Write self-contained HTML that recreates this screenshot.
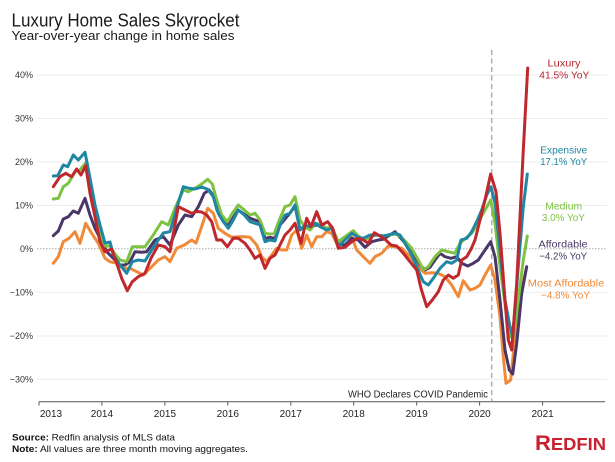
<!DOCTYPE html>
<html><head><meta charset="utf-8"><style>
html,body{margin:0;padding:0;background:#fff;}
svg{display:block;font-family:"Liberation Sans",Arial,sans-serif;}
</style></head><body>
<svg width="615" height="462" viewBox="0 0 615 462" xmlns="http://www.w3.org/2000/svg">
<rect width="615" height="462" fill="#fff"/>
<text x="11.5" y="26.5" font-size="18.5" fill="#1a1a1a" textLength="228" lengthAdjust="spacingAndGlyphs">Luxury Home Sales Skyrocket</text>
<text x="11.5" y="40" font-size="13" fill="#1a1a1a" textLength="223" lengthAdjust="spacingAndGlyphs">Year-over-year change in home sales</text>

<g stroke="#ebebeb" stroke-width="1">
<line x1="37" y1="75" x2="607" y2="75"/>
<line x1="37" y1="118.5" x2="607" y2="118.5"/>
<line x1="37" y1="162" x2="607" y2="162"/>
<line x1="37" y1="205.5" x2="607" y2="205.5"/>
<line x1="37" y1="292.3" x2="607" y2="292.3"/>
<line x1="37" y1="336" x2="607" y2="336"/>
<line x1="37" y1="379.3" x2="607" y2="379.3"/>
</g>
<line x1="37" y1="248.7" x2="607" y2="248.7" stroke="#aaa" stroke-width="1" stroke-dasharray="1.5 1.5"/>

<g font-size="9" fill="#333" text-anchor="end">
<text x="33" y="78.2">40%</text>
<text x="33" y="121.7">30%</text>
<text x="33" y="165.2">20%</text>
<text x="33" y="208.7">10%</text>
<text x="33" y="251.9">0%</text>
<text x="33" y="295.5">−10%</text>
<text x="33" y="339.2">−20%</text>
<text x="33" y="382.5">−30%</text>
</g>

<line x1="491.7" y1="50" x2="491.7" y2="401" stroke="#b0b0b0" stroke-width="1.5" stroke-dasharray="5 3.5"/>

<g fill="none" stroke-width="3" stroke-linejoin="round" stroke-linecap="round">
<polyline stroke="#f08a38" points="53.3,263.3 58.3,256.7 63.3,241.7 69,238.3 75,231.7 80,243.3 85.7,223.3 91.7,233.3 98.3,243.3 105,258.3 110,261.7 116.7,263.3 123.3,268.3 130,268.3 136.7,271.7 143.3,275 151.7,266.7 158.3,260 165,256.7 170,261.7 176.7,248.3 184.3,245 191.7,240 196,243 201.5,227 207.7,208.3 213.3,213.3 218.3,228.3 225,233.3 231.7,237.3 238.3,236.7 245,236.7 250,237.3 256.7,245 261.7,256.7 266.7,261.7 271.7,255 276.7,248.3 281.7,250 286.7,250 291.7,235 296.7,230 301.7,248.3 306.7,235 311.7,246.7 316.7,236.7 321.7,236.7 326.7,231.7 331.7,233.3 338.3,246.7 345,238.3 351.7,237.3 356.7,250 363.3,256.7 370,263.3 375,256.7 381.7,253.3 388.3,246 395,246.7 401.7,248.3 410,256.7 418.3,266.7 425,273.3 432.3,272.7 438.3,273.3 445,276.7 451.7,285 458.3,296.7 463.3,280.7 470,290 475,288.3 480,285 485,275 490.7,265 495,280 500,316.7 503.3,356.7 506,383.3 510.7,380 515,336.7 520,296.7 526,270"/>
<polyline stroke="#4a3768" points="53.3,235.7 58.3,231 63.3,219 68.3,216.7 73.3,211 78.3,213.3 85,198.3 90,215 95,228.3 101.7,241.7 106.7,251.7 113.3,258.3 120,265 125,265 130,261.7 135,251.7 141.7,252.3 146.7,251.7 155,240 163.3,236.7 170,245 178.3,225 185,215 191.7,216.7 198.3,206.7 204.3,193.3 209,190 213,195 217,210 222,219 228,226 233,218 238,210 244,214 250,218.3 255,220 260,221.7 265,238.3 270,237.3 275,238.3 280,225 285,219 290,213 295,206 300,230 305,226 310,228 315.7,225 321.7,226 326.7,229 331.7,228 338.3,244 345,245 351.7,238.3 358.3,240 365,247.3 371.7,241.7 378.3,240 383.3,239.3 390,235 395,231.7 400,237.3 406.7,245 413.3,253.3 420,265 425,270 430,267.3 435,260 440,253.3 445,256.7 451,258.3 456.7,256.7 461.7,263.3 467.7,266 473.3,263.3 478.3,260 485,250 490.7,241.7 495,256.7 500,300 505,350 509.3,370 512.7,374 516.7,343.3 521.7,293.3 526.7,266.7"/>
<polyline stroke="#7dc242" points="53.3,199 58.3,198.3 63.3,186.7 68.3,183.3 75,171.7 80,170 85.7,163 90,186 95,210 100,232 105,246 110,246 115,254 120,260 126.7,261.7 132.3,246.7 138.3,246.7 145,246.7 153.3,235 161.7,221.7 168.3,225 175,208.3 183.3,190 188.3,191.7 195,188.3 201.7,184 207.7,179.3 212.3,184 216.7,200 221.7,215 227.3,221.7 232.7,212.7 238.3,205 244.3,210 250,215 255,213.3 260,220 265,233.3 270,234 274.3,233.3 280,218.3 285,206.7 290,205 295,196.7 300,220 305,226.7 310,230 315.7,223.3 321.7,225 326.7,228.3 331.7,226.7 338.3,241.7 345,236.7 353.3,230.7 358.3,236 365,240 371,236 377,235 383,236 389,235 395,234 400,236 405,241 411.7,248.3 418.3,260 423.3,270 428.3,266.7 435,256.7 441.7,250 448.3,251.7 455,253.3 460,243.3 466.7,237.3 471.7,233.3 476.7,225 483.3,213.3 490.7,200 495,223.3 500,266.7 506.7,316.7 510,336.7 513,338 518.3,300 523.3,260 527.3,236"/>
<polyline stroke="#1f87a3" points="53.3,176 57.7,175.7 63.3,165 67.7,166.7 73.3,155 78.3,160 85,152.3 90,178 95,205 100,225 105,243 110,242 113.3,255 120,265 126.7,273.3 132.3,261.7 138.3,260 145,261 151.7,250 158.3,240 163.3,233 170,231.7 176.7,208.3 183.3,186.7 189,188.3 195,189 201.7,187 207.7,189.3 213.3,196.7 218.3,213.3 223.3,221.7 228.3,228.3 233.3,220 238.3,210 244.3,215 250,221.7 255,223.3 260,225 265,241.7 270,240 275,241 280,225 285,215 290,213.3 295,205 300,230 305,225 310,226.7 315.7,223.3 320,226.7 326.7,230 331.7,228.3 338.3,246.7 345,240 351.7,233.3 358.3,237.3 363.3,238.3 370,235 376.7,235 383.3,236 388.3,235 395,233.3 400,235 405,243.3 411.7,255 416.7,266.7 423.3,281.7 428.3,285 433.3,278.3 440,268.3 446.7,261.7 451.7,263.3 456.7,260 461,240 466.7,238.3 471.7,231.7 476.7,221.7 481.7,210 486.7,195 491,186.7 495,203.3 500,250 505,300 509.3,323.3 512.7,336.7 518.3,266.7 523.3,206.7 527.3,174"/>
<polyline stroke="#c0282e" points="53.3,186.7 60,176.7 65.7,173.3 71.7,176.7 76.7,169 81,175 85.7,165.7 90,193.3 95,216.7 100,241.7 105,251.7 111.7,249 116.7,263.3 121.7,278.3 127.3,290.7 132.3,281.7 138.3,276.7 145,273.3 151,258.3 158.3,245 165,246.7 170,251.7 178.3,206.7 185,210 191.7,213.3 197,211.5 201.7,212 206.7,215 211.7,221.7 216.7,240 221.7,240 227.3,246.7 233.3,238.3 238.3,238.3 245,243.3 250,250 255,258.3 260,255 265,268.3 270,258.3 275,255 280,245 285,235 290,230 295,223.3 301,243.3 306.7,218.3 311,226.7 316.7,211.7 321.7,225 327.7,221.7 332.7,228.3 338.3,248.3 345,247.3 351.7,241.7 357.7,238.3 363.3,240 368.3,243.3 374.3,232.7 380,236 385,239.3 391,245 396.7,246 403.3,253.3 410,261.7 416.7,270 421,288.3 426.7,306.7 432.3,300 438.3,291.7 443.3,280 448.3,275 453.3,278.3 458.3,275 461.7,260 466.7,256.7 471,249.3 475,240 480,220 485,200 490.7,174 496,191.7 500,233.3 505,300 508.3,340 511.7,350 516.7,283.3 520,216.7 523.3,150 527.7,68"/>
</g>

<g font-size="10.5" text-anchor="middle">
<text x="564" y="66.5" fill="#b5262d" textLength="33" lengthAdjust="spacingAndGlyphs">Luxury</text>
<text x="564.3" y="78.3" fill="#b5262d" textLength="50" lengthAdjust="spacingAndGlyphs">41.5% YoY</text>
<text x="563.7" y="153.5" fill="#1f87a3" textLength="47" lengthAdjust="spacingAndGlyphs">Expensive</text>
<text x="563.7" y="165" fill="#1f87a3" textLength="47" lengthAdjust="spacingAndGlyphs">17.1% YoY</text>
<text x="563.7" y="209.3" fill="#7dc242" textLength="37" lengthAdjust="spacingAndGlyphs">Medium</text>
<text x="563.4" y="221" fill="#7dc242" textLength="43" lengthAdjust="spacingAndGlyphs">3.0% YoY</text>
<text x="563" y="247.7" fill="#4a3768" textLength="49" lengthAdjust="spacingAndGlyphs">Affordable</text>
<text x="563.2" y="259.3" fill="#4a3768" textLength="48" lengthAdjust="spacingAndGlyphs">−4.2% YoY</text>
<text x="566" y="286.7" fill="#f08a38" textLength="76.5" lengthAdjust="spacingAndGlyphs">Most Affordable</text>
<text x="565.5" y="298.3" fill="#f08a38" textLength="49" lengthAdjust="spacingAndGlyphs">−4.8% YoY</text>
</g>

<text x="488" y="397.5" font-size="10" fill="#222" text-anchor="end" textLength="140" lengthAdjust="spacingAndGlyphs">WHO Declares COVID Pandemic</text>

<line x1="39" y1="401.7" x2="605" y2="401.7" stroke="#555" stroke-width="1"/>
<g stroke="#555" stroke-width="1">
<line x1="39" y1="401.7" x2="39" y2="405.5"/>
<line x1="101.9" y1="401.7" x2="101.9" y2="405.5"/>
<line x1="164.9" y1="401.7" x2="164.9" y2="405.5"/>
<line x1="227.8" y1="401.7" x2="227.8" y2="405.5"/>
<line x1="290.8" y1="401.7" x2="290.8" y2="405.5"/>
<line x1="353.7" y1="401.7" x2="353.7" y2="405.5"/>
<line x1="416.7" y1="401.7" x2="416.7" y2="405.5"/>
<line x1="479.6" y1="401.7" x2="479.6" y2="405.5"/>
<line x1="542.6" y1="401.7" x2="542.6" y2="405.5"/>
</g>
<g font-size="10" fill="#222" text-anchor="middle">
<text x="51" y="417">2013</text>
<text x="101.9" y="417">2014</text>
<text x="164.9" y="417">2015</text>
<text x="227.8" y="417">2016</text>
<text x="290.8" y="417">2017</text>
<text x="353.7" y="417">2018</text>
<text x="416.7" y="417">2019</text>
<text x="479.6" y="417">2020</text>
<text x="542.6" y="417">2021</text>
</g>

<text x="12" y="440.5" font-size="9.2" fill="#111" textLength="163" lengthAdjust="spacingAndGlyphs"><tspan font-weight="bold">Source:</tspan> Redfin analysis of MLS data</text>
<text x="12" y="452" font-size="9.2" fill="#111" textLength="236" lengthAdjust="spacingAndGlyphs"><tspan font-weight="bold">Note:</tspan> All values are three month moving aggregates.</text>

<text x="535" y="450" font-weight="bold" fill="#c8202f" textLength="71" lengthAdjust="spacingAndGlyphs"><tspan font-size="21">R</tspan><tspan font-size="17.5">EDFIN</tspan></text>
</svg>
</body></html>
